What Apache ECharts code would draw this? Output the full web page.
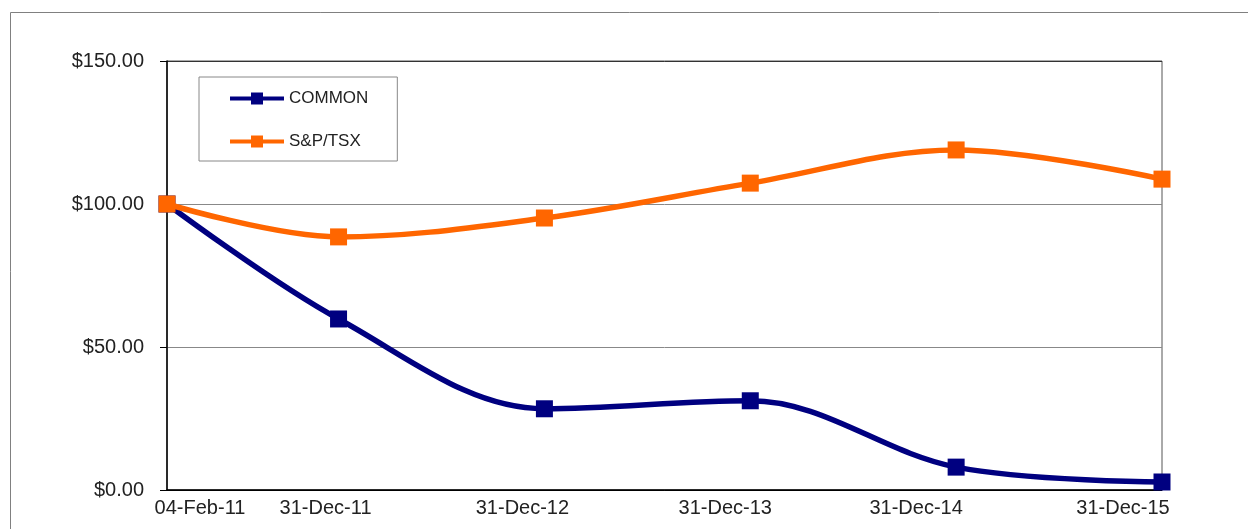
<!DOCTYPE html>
<html>
  <head>
    <meta charset="utf-8" />
    <title>COMMON vs S&amp;P/TSX</title>
    <script src="https://cdn.jsdelivr.net/npm/echarts@6/dist/echarts.min.js"></script>
    <style>
      body { margin: 0; background: #fff; }
      #main { width: 1248px; height: 529px; }
    </style>
  </head>
  <body>
    <div id="main"></div>
    <script type="text/javascript">
// dates on the x axis and their position in months from the first date
var dates = ['04-Feb-11', '31-Dec-11', '31-Dec-12', '31-Dec-13', '31-Dec-14', '31-Dec-15'];
var months = [0, 10, 22, 34, 46, 58];

var common = [100, 59.8, 28.4, 31.2, 8.0, 2.8];
var tsx = [100, 88.5, 95.1, 107.3, 118.9, 108.7];

var yTicks = [0, 50, 100, 150];

var chartDom = document.getElementById('main');
var myChart = echarts.init(chartDom);

function pairs(vals) {
  return vals.map(function (v, i) { return [months[i], v]; });
}

// excel places the date labels a bit off their points
var shift = [33, -13, -22, -25, -40, -39];
var rich = {};
shift.forEach(function (d, i) {
  rich['d' + i] = {
    fontFamily: 'Liberation Sans',
    fontSize: 20,
    color: '#222',
    padding: d > 0 ? [0, 0, 0, 2 * d] : [0, -2 * d, i === 3 ? 8 : 0, 0]
  };
});

var option = {
  animation: false,
  grid: {
    left: 167,
    right: 86,
    top: 61,
    bottom: 39,
    show: true,
    borderColor: '#555',
    borderWidth: 1
  },
  graphic: [
    {
      type: 'rect',
      shape: { x: 10.5, y: 12.5, width: 1400, height: 700 },
      style: { fill: 'none', stroke: '#808080', lineWidth: 1 },
      z: -1
    }
  ],
  legend: {
    orient: 'vertical',
    left: 199,
    top: 77,
    padding: [13, 29, 11, 29],
    itemGap: 26,
    itemWidth: 54,
    itemHeight: 15,
    borderColor: '#888',
    borderWidth: 1,
    lineStyle: { width: 4 },
    textStyle: { fontFamily: 'Liberation Sans', fontSize: 17, color: '#222' },
    data: ['COMMON', 'S&P/TSX']
  },
  xAxis: {
    type: 'value',
    min: 0,
    max: 58,
    splitLine: { show: false },
    axisTick: { show: false },
    axisLine: { lineStyle: { color: '#000', width: 1.5 } },
    axisLabel: {
      customValues: months,
      hideOverlap: false,
      showMinLabel: true,
      showMaxLabel: true,
      margin: 8,
      formatter: function (v) {
        var i = months.indexOf(v);
        return i < 0 ? '' : '{d' + i + '|' + dates[i] + '}';
      },
      rich: rich
    }
  },
  yAxis: {
    type: 'value',
    min: yTicks[0],
    max: yTicks[yTicks.length - 1],
    interval: 50,
    axisLine: { show: true, lineStyle: { color: '#000', width: 1.5 } },
    axisTick: { show: true, length: 7, lineStyle: { color: '#000' } },
    splitLine: { lineStyle: { color: ['#000', '#888', '#888', '#333'], width: 1 } },
    axisLabel: {
      margin: 23,
      fontFamily: 'Liberation Sans',
      fontSize: 20,
      color: '#222',
      formatter: function (v) { return '$' + v.toFixed(2); }
    }
  },
  series: [
    {
      name: 'COMMON',
      type: 'line',
      data: pairs(common),
      smooth: 0.35,
      symbol: 'rect',
      symbolSize: 17,
      itemStyle: { color: '#000080' },
      lineStyle: { color: '#000080', width: 5.5 },
      z: 3
    },
    {
      name: 'S&P/TSX',
      type: 'line',
      data: pairs(tsx),
      smooth: 0.35,
      symbol: 'rect',
      symbolSize: 17,
      itemStyle: { color: '#FF6600' },
      lineStyle: { color: '#FF6600', width: 5.5 },
      z: 4
    }
  ]
};

myChart.setOption(option);
    </script>
  </body>
</html>
